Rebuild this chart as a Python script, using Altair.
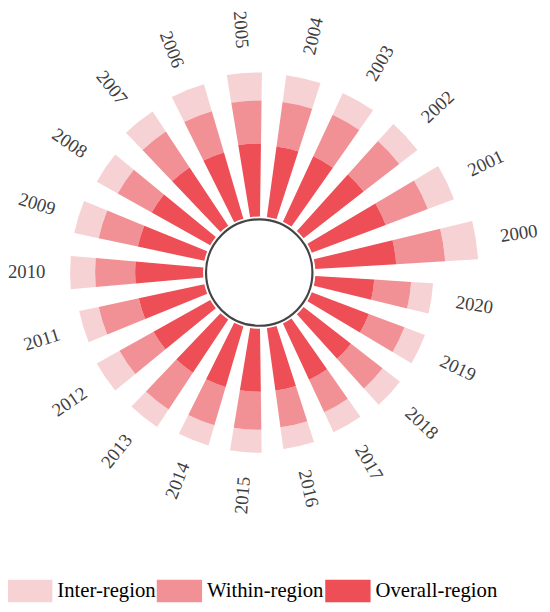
import math
import altair as alt
import pandas as pd

# ---- data ----
years = list(range(2000, 2021))
overall = [0.081, 0.079, 0.076, 0.072, 0.071, 0.073, 0.069, 0.070, 0.067, 0.068, 0.068,
           0.067, 0.065, 0.064, 0.063, 0.063, 0.063, 0.062, 0.060, 0.061, 0.059]
within = [0.049, 0.045, 0.045, 0.046, 0.045, 0.043, 0.043, 0.043, 0.039, 0.040, 0.040,
          0.041, 0.039, 0.044, 0.040, 0.038, 0.037, 0.036, 0.040, 0.038, 0.037]
inter = [0.033, 0.028, 0.023, 0.024, 0.027, 0.028, 0.028, 0.024, 0.024, 0.025, 0.025,
         0.020, 0.026, 0.021, 0.021, 0.023, 0.022, 0.022, 0.022, 0.022, 0.022]

categories = ["Inter-region", "Within-region", "Overall-region"]
colors = ["#F7D2D4", "#F19195", "#EE4E55"]

df = pd.DataFrame({
    "year": years,
    "Overall-region": overall,
    "Within-region": within,
    "Inter-region": inter,
})

n = len(years)
theta_scale = alt.Scale(type="linear", domain=[0, n],
                        range=[math.pi / 2, math.pi / 2 - 2 * math.pi],
                        zero=False, nice=False)
r_scale = alt.Scale(type="linear", domain=[0, 0.2], range=[57, 260],
                    zero=False, nice=False)

base = alt.Chart(df)

bars = base.transform_fold(
    categories, as_=["type", "value"]
).transform_calculate(
    ord="indexof(['Overall-region','Within-region','Inter-region'], datum.type)",
    t0="datum.year - 2000 + 0.205",
    t1="datum.year - 2000 + 0.795",
).transform_stack(
    stack="value", groupby=["year"], as_=["r0", "r1"],
    sort=[alt.SortField("ord", order="ascending")],
).mark_arc(strokeWidth=0).encode(
    theta=alt.Theta("t0:Q", scale=theta_scale, stack=None),
    theta2="t1:Q",
    radius=alt.Radius("r0:Q", scale=r_scale, stack=None),
    radius2="r1:Q",
    color=alt.Color(
        "type:N",
        scale=alt.Scale(domain=categories, range=colors),
        legend=alt.Legend(
            title=None, orient="none", legendX=-1, legendY=564,
            direction="horizontal",
            symbolType="M-1,-0.5H1V0.5H-1Z", symbolSize=2116,
            symbolStrokeWidth=0, symbolOpacity=1,
            labelFont="Liberation Serif", labelFontSize=21, labelColor="#000000",
            labelOffset=5, columnPadding=1, labelLimit=300,
        ),
    ),
)

labels = base.transform_calculate(
    total="datum['Overall-region'] + datum['Within-region'] + datum['Inter-region']",
    tc="datum.year - 2000 + 0.5",
    a="(datum.year - 2000 + 0.5) * 360 / %d" % n,
).transform_calculate(
    rot="cos(datum.a * PI / 180) >= 0 ? (720 - datum.a) % 360 : (540 - datum.a) % 360",
).mark_text(
    radiusOffset=44, font="Liberation Serif", fontSize=19, color="#404040",
    align="center", baseline="middle",
).encode(
    theta=alt.Theta("tc:Q", scale=theta_scale, stack=None),
    radius=alt.Radius("total:Q", scale=r_scale, stack=None),
    text=alt.Text("year:O"),
    angle=alt.Angle("rot:Q", scale=None),
)

circle = alt.Chart(alt.Data(values=[{"k": 1}])).mark_arc(
    radius=54, fill="white", stroke="#444444", strokeWidth=2.2,
).encode(
    theta=alt.value(0),
    theta2=alt.value(6.2832),
)

chart = alt.layer(bars, labels, circle).properties(
    width=510, height=528, autosize="none",
    padding={"left": 0, "top": 0, "right": 32, "bottom": 76},
).configure_view(stroke=None)

chart.save("out.html", embed_options={"renderer": "svg", "actions": False})
